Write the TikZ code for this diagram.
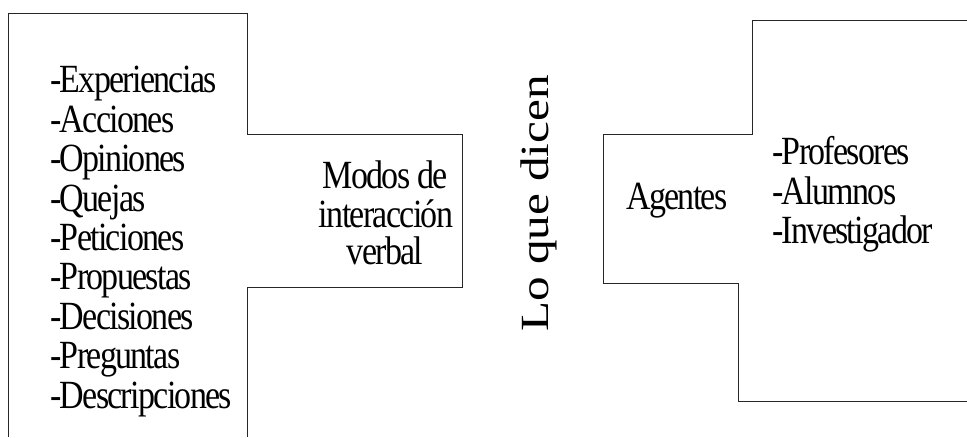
\documentclass[tikz,border=0pt]{standalone}
\usepackage{fontspec}
\setmainfont{Liberation Serif}
\newfontfamily\tightfont[LetterSpace=-5]{Liberation Serif}
\newcommand{\cnd}[1]{\scalebox{0.85}[1]{#1}}
\tikzset{
  shapeline/.style={draw=black!85, line width=0.8pt},
  txt/.style={inner sep=0pt, font=\tightfont\fontsize{40}{48}\selectfont},
  bigtxt/.style={inner sep=0pt, font=\fontsize{40}{48}\selectfont}
}
\begin{document}
\begin{tikzpicture}[x=1pt,y=1pt]
\useasboundingbox (0,0) rectangle (967,437);
% left shape
\draw[shapeline] (8,0) -- (8,424) -- (247,424) -- (247,303) -- (462,303) -- (462,150) -- (247,150) -- (247,0);
% right shape
\draw[shapeline] (967,417) -- (752,417) -- (752,303) -- (603,303) -- (603,154) -- (738,154) -- (738,36) -- (967,36);
% left list
\foreach \t [count=\i] in {-Experiencias,-Acciones,-Opiniones,-Quejas,-Peticiones,-Propuestas,-Decisiones,-Preguntas,-Descripciones}
  \node[txt, anchor=base west] (l\i) at (50, {344-39.4*(\i-1)}) {\cnd{\t}};
% modos
\node[txt, anchor=base] (m1) at (385,248.7) {\cnd{Modos de}};
\node[txt, anchor=base] (m2) at (386,209.3) {\cnd{interacción}};
\node[txt, anchor=base] (m3) at (385,172) {\cnd{verbal}};
% vertical title
\node[bigtxt, rotate=90, anchor=base] (title) at (548,233.5) {\scalebox{1.23}[1]{Lo que dicen}};
% agentes
\node[txt, anchor=base] (ag) at (677,227) {\cnd{Agentes}};
\node[txt, anchor=base west] (r1) at (772,272) {\cnd{-Profesores}};
\node[txt, anchor=base west] (r2) at (772,232.5) {\cnd{-Alumnos}};
\node[txt, anchor=base west] (r3) at (772,193) {\cnd{-Investigador}};
\end{tikzpicture}
\end{document}
